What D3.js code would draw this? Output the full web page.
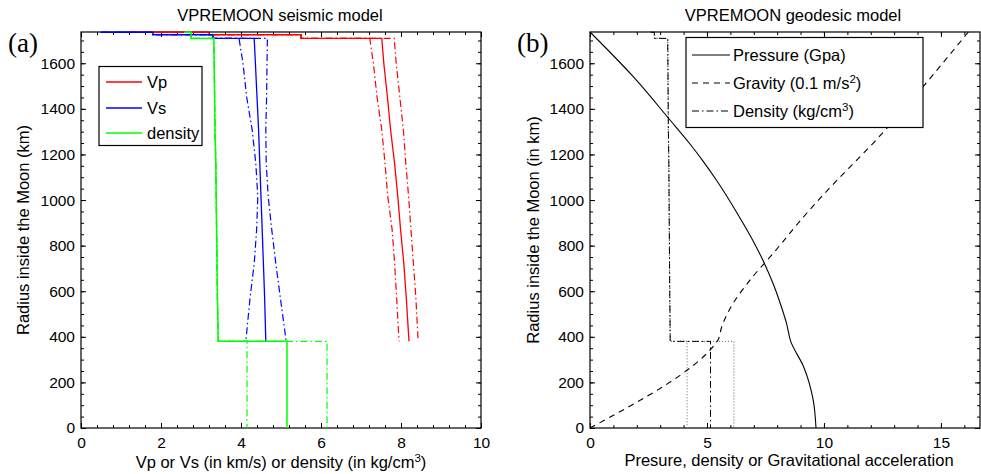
<!DOCTYPE html>
<html>
<head>
<meta charset="utf-8">
<script src="https://d3js.org/d3.v7.min.js"></script>
<style>
  body { margin: 0; background: #fff; }
  text { font-family: "Liberation Sans", Arial, sans-serif; fill: #000; }
</style>
</head>
<body>
<div id="chart"></div>
<script>
// Radius grid (km)
var moonRadius = 1737.1;
var crustRadius = [1737.1, 1736, 1736, 1725, 1725, 1709];
var mantleRadius = [1709, 1600, 1453, 1307, 1161, 1015, 868, 722, 576, 380];
var coreRadius = [380, 0];

// Panel (a) - seismic model
var vpCrust = [1.2, 1.2, 3.2, 3.2, 5.5, 5.5];
var vpMantle = [7.52, 7.57, 7.66, 7.74, 7.84, 7.92, 7.99, 8.07, 8.13, 8.20];
var vpMantleLow = [7.22, 7.31, 7.40, 7.52, 7.60, 7.67, 7.78, 7.84, 7.89, 7.95];
var vpMantleHigh = [7.83, 7.88, 7.97, 8.06, 8.12, 8.19, 8.25, 8.31, 8.37, 8.43];

var vsCrust = [0.5, 0.5, 1.8, 1.8, 3.3, 3.3];
var vsMantle = [4.33, 4.36, 4.40, 4.44, 4.47, 4.50, 4.53, 4.56, 4.59, 4.62];
var vsMantleLow = [3.95, 4.05, 4.14, 4.28, 4.37, 4.42, 4.39, 4.33, 4.23, 4.12];
var vsMantleHigh = [4.66, 4.65, 4.64, 4.62, 4.63, 4.68, 4.77, 4.87, 4.98, 5.13];

var rhoCrust = [2.6, 2.6, 2.75, 2.75, 2.75, 2.75];
var rhoMantle = [3.32, 3.33, 3.34, 3.35, 3.37, 3.38, 3.39, 3.40, 3.41, 3.43];
var rhoCore = [5.15, 5.15];
var rhoCoreLow = [4.15, 4.15];
var rhoCoreHigh = [6.15, 6.15];

// Panel (b) - geodesic model
var pressureRadius = [1737.1, 1541, 1351, 1249, 1175, 1088, 927, 825, 723, 635, 532, 459, 380, 269, 123, 0];
var pressureValues = [0, 1.85, 3.42, 4.25, 4.8, 5.4, 6.38, 6.95, 7.45, 7.82, 8.18, 8.40, 8.58, 9.13, 9.54, 9.66];
var gravityRadius = [1737.1, 1351, 1249, 1175, 1102, 942, 766, 649, 547, 444, 386, 380, 0];
var gravityValues = [16.17, 13.0, 12.1, 11.4, 10.7, 9.26, 7.83, 6.84, 6.12, 5.63, 5.47, 5.43, 0];

// Ticks
var yTicks = [0, 200, 400, 600, 800, 1000, 1200, 1400, 1600];
var yMinor = d3.range(0, 1737, 50);
var xTicksA = [0, 2, 4, 6, 8, 10];
var xMinorA = d3.range(0, 10.01, 0.4);
var xTicksB = [0, 5, 10, 15];
var xMinorB = d3.range(0, 17, 1);

var svgWidth = 981;
var svgHeight = 474;

var svg = d3.select("#chart")
  .append("svg")
  .attr("width", svgWidth)
  .attr("height", svgHeight);

var yScale = d3.scaleLinear().domain([0, moonRadius]).range([428, 32]);
var xA = d3.scaleLinear().domain([0, 10]).range([81, 481]);
var xB = d3.scaleLinear().domain([0, 16.67]).range([590, 980]);

// join radius and value arrays into one profile
function profile(parts) {
  var pts = [];
  parts.forEach(function(p) {
    p[0].forEach(function(r, i) { pts.push({r: r, v: p[1][i]}); });
  });
  return pts;
}

function frame(x, xMajor, xMinor) {
  var r = x.range();
  var g = svg.append("g");
  var top = 32, bottom = 428;

  g.append("g").attr("transform", `translate(0, ${bottom})`)
    .call(d3.axisBottom(x).tickValues(xMinor).tickSizeInner(-3).tickSizeOuter(0).tickFormat(""));
  g.append("g").attr("transform", `translate(0, ${top})`)
    .call(d3.axisTop(x).tickValues(xMinor).tickSizeInner(-3).tickSizeOuter(0).tickFormat(""));
  g.append("g").attr("transform", `translate(0, ${top})`)
    .call(d3.axisTop(x).tickValues(xMajor).tickSizeInner(-5).tickSizeOuter(0).tickFormat(""));
  g.append("g").attr("transform", `translate(0, ${bottom})`)
    .call(d3.axisBottom(x).tickValues(xMajor).tickSizeInner(-5).tickSizeOuter(0).tickPadding(9).tickFormat(d3.format("d")));

  g.append("g").attr("transform", `translate(${r[0]}, 0)`)
    .call(d3.axisLeft(yScale).tickValues(yMinor).tickSizeInner(-3).tickSizeOuter(0).tickFormat(""));
  g.append("g").attr("transform", `translate(${r[1]}, 0)`)
    .call(d3.axisRight(yScale).tickValues(yMinor).tickSizeInner(-3).tickSizeOuter(0).tickFormat(""));
  g.append("g").attr("transform", `translate(${r[1]}, 0)`)
    .call(d3.axisRight(yScale).tickValues(yTicks).tickSizeInner(-5).tickSizeOuter(0).tickFormat(""));
  g.append("g").attr("transform", `translate(${r[0]}, 0)`)
    .call(d3.axisLeft(yScale).tickValues(yTicks).tickSizeInner(-5).tickSizeOuter(0).tickPadding(6).tickFormat(d3.format("d")));

  g.selectAll(".domain").remove();
  g.selectAll(".tick line").attr("stroke", "#000").attr("stroke-width", 1);
  g.selectAll("text")
    .attr("font-family", "Liberation Sans, Arial, sans-serif")
    .attr("font-size", "15.5px")
    .attr("fill", "#000");

  g.append("rect")
    .attr("x", r[0]).attr("y", top)
    .attr("width", r[1] - r[0]).attr("height", bottom - top)
    .attr("fill", "none").attr("stroke", "#000").attr("stroke-width", 1.2);
}

function drawLine(x, data, color, dash, width) {
  var line = d3.line().x(d => x(d.v)).y(d => yScale(d.r));
  svg.append("path")
    .datum(data)
    .attr("d", line)
    .attr("fill", "none")
    .attr("stroke", color)
    .attr("stroke-width", width)
    .attr("stroke-dasharray", dash);
}

function drawCurve(x, data, color, dash, width) {
  var line = d3.line().x(d => x(d.v)).y(d => yScale(d.r)).curve(d3.curveMonotoneY);
  svg.append("path")
    .datum(data)
    .attr("d", line)
    .attr("fill", "none")
    .attr("stroke", color)
    .attr("stroke-width", width)
    .attr("stroke-dasharray", dash);
}

var dashDot = "7,3,1.5,3";

// ===== Panel (a) =====
frame(xA, xTicksA, xMinorA);

drawLine(xA, profile([[crustRadius, vpCrust], [mantleRadius, vpMantleLow]]), "#ff0000", dashDot, 1.2);
drawLine(xA, profile([[crustRadius, vpCrust], [mantleRadius, vpMantleHigh]]), "#ff0000", dashDot, 1.2);
drawLine(xA, profile([[crustRadius, vpCrust], [mantleRadius, vpMantle]]), "#ff0000", null, 1.3);

drawLine(xA, profile([[crustRadius, vsCrust], [mantleRadius, vsMantleLow]]), "#0000ff", dashDot, 1.2);
drawLine(xA, profile([[crustRadius, vsCrust], [mantleRadius, vsMantleHigh]]), "#0000ff", dashDot, 1.2);
drawLine(xA, profile([[crustRadius, vsCrust], [mantleRadius, vsMantle]]), "#0000ff", null, 1.3);

drawLine(xA, profile([[crustRadius, rhoCrust], [mantleRadius, rhoMantle], [coreRadius, rhoCoreLow]]), "#00ff00", dashDot, 1.2);
drawLine(xA, profile([[crustRadius, rhoCrust], [mantleRadius, rhoMantle], [coreRadius, rhoCoreHigh]]), "#00ff00", dashDot, 1.2);
drawLine(xA, profile([[crustRadius, rhoCrust], [mantleRadius, rhoMantle], [coreRadius, rhoCore]]), "#00ff00", null, 1.5);

// legend (a)
var legA = svg.append("g");
legA.append("rect").attr("x", 99).attr("y", 66.5).attr("width", 103).attr("height", 79)
  .attr("fill", "#fff").attr("stroke", "#000").attr("stroke-width", 1.2);
[["Vp", "#ff0000", 82], ["Vs", "#0000ff", 108], ["density", "#00ff00", 133]].forEach(function(e) {
  legA.append("line").attr("x1", 106).attr("x2", 142).attr("y1", e[2]).attr("y2", e[2])
    .attr("stroke", e[1]).attr("stroke-width", 1.3);
  legA.append("text").attr("x", 147).attr("y", e[2]).attr("dy", "0.35em")
    .attr("font-size", "16.5px").text(e[0]);
});

// titles and labels (a)
svg.append("text").attr("x", 280).attr("y", 21).attr("text-anchor", "middle")
  .attr("font-size", "16.5px").text("VPREMOON seismic model");

svg.append("text").attr("x", 8).attr("y", 52)
  .style("font-family", "Liberation Serif, serif")
  .attr("font-size", "27px").text("(a)");

svg.append("text")
  .attr("transform", "translate(23, 230) rotate(-90)")
  .attr("text-anchor", "middle").attr("dy", "0.35em")
  .attr("font-size", "16.5px").text("Radius inside the Moon (km)");

var xlabA = svg.append("text").attr("x", 281).attr("y", 468).attr("text-anchor", "middle")
  .attr("font-size", "16.5px");
xlabA.append("tspan").text("Vp or Vs (in km/s) or density (in kg/cm");
xlabA.append("tspan").attr("dy", -6).attr("font-size", "11.5px").text("3");
xlabA.append("tspan").attr("dy", 6).text(")");

// ===== Panel (b) =====
frame(xB, xTicksB, xMinorB);

drawLine(xB, profile([[crustRadius, rhoCrust], [mantleRadius, rhoMantle], [coreRadius, rhoCoreLow]]), "#666", "1,2", 1);
drawLine(xB, profile([[crustRadius, rhoCrust], [mantleRadius, rhoMantle], [coreRadius, rhoCoreHigh]]), "#666", "1,2", 1);
drawLine(xB, profile([[crustRadius, rhoCrust], [mantleRadius, rhoMantle], [coreRadius, rhoCore]]), "#000", dashDot, 1);

drawCurve(xB, profile([[pressureRadius, pressureValues]]), "#000", null, 1.1);
drawCurve(xB, profile([[gravityRadius, gravityValues]]), "#000", "6,5", 1.1);

// legend (b)
var legB = svg.append("g");
legB.append("rect").attr("x", 686).attr("y", 37.5).attr("width", 237).attr("height", 90)
  .attr("fill", "#fff").attr("stroke", "#000").attr("stroke-width", 1.2);
var legItems = [
  {label: "Pressure (Gpa)", dash: null, y: 55},
  {label: "Gravity (0.1 m/s", sup: "2", tail: ")", dash: "6,5", y: 83},
  {label: "Density (kg/cm", sup: "3", tail: ")", dash: dashDot, y: 111}
];
legItems.forEach(function(e) {
  legB.append("line").attr("x1", 692).attr("x2", 730).attr("y1", e.y).attr("y2", e.y)
    .attr("stroke", "#000").attr("stroke-width", 1.1).attr("stroke-dasharray", e.dash);
  var t = legB.append("text").attr("x", 733).attr("y", e.y + 6).attr("font-size", "16.5px");
  t.append("tspan").text(e.label);
  if (e.sup) {
    t.append("tspan").attr("dy", -6).attr("font-size", "11.5px").text(e.sup);
    t.append("tspan").attr("dy", 6).text(e.tail);
  }
});

svg.append("text").attr("x", 793).attr("y", 21).attr("text-anchor", "middle")
  .attr("font-size", "16.5px").text("VPREMOON geodesic model");

svg.append("text").attr("x", 517).attr("y", 52)
  .style("font-family", "Liberation Serif, serif")
  .attr("font-size", "27px").text("(b)");

svg.append("text")
  .attr("transform", "translate(533, 230) rotate(-90)")
  .attr("text-anchor", "middle").attr("dy", "0.35em")
  .attr("font-size", "16.5px").text("Radius inside the Moon (in km)");

svg.append("text").attr("x", 789).attr("y", 466).attr("text-anchor", "middle")
  .attr("font-size", "16.5px").text("Presure, density or Gravitational acceleration");
</script>
</body>
</html>
